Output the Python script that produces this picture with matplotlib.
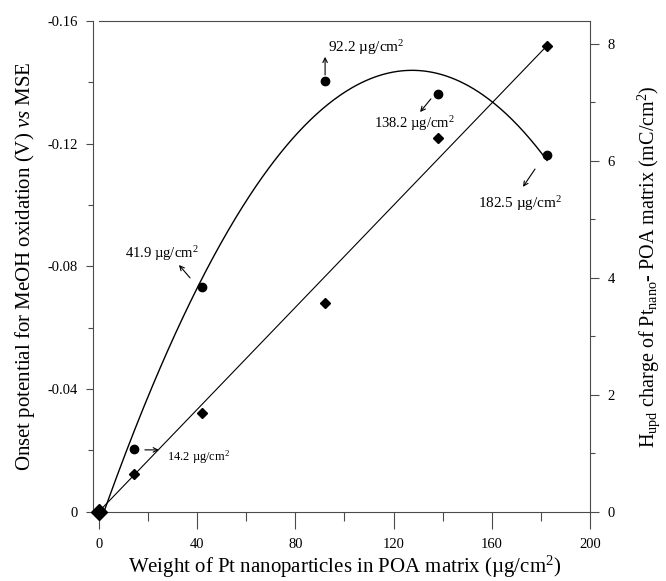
import numpy as np
import matplotlib
matplotlib.use("Agg")
import matplotlib.pyplot as plt
from matplotlib.ticker import MultipleLocator, FuncFormatter

plt.rcParams['font.family'] = ['Liberation Serif', 'DejaVu Serif']
plt.rcParams['mathtext.fontset'] = 'custom'
plt.rcParams['mathtext.rm'] = 'Liberation Serif'
plt.rcParams['mathtext.it'] = 'Liberation Serif:italic'

# ---- data ----
pt_weight = [0.0, 14.2, 41.9, 92.2, 138.2, 182.5]          # ug/cm2
onset_potential = [0.0, -0.0204, -0.0732, -0.1404, -0.1363, -0.1163]  # V vs MSE
hupd_charge = [0.0, 0.64, 1.68, 3.57, 6.39, 7.96]           # mC/cm2

x_ticks = [0, 40, 80, 120, 160, 200]
left_ticks = [0, -0.04, -0.08, -0.12, -0.16]
right_ticks = [0, 2, 4, 6, 8]

ann_labels = ['92.2 µg/cm$^2$', '138.2 µg/cm$^2$', '182.5 µg/cm$^2$',
              '41.9 µg/cm$^2$', '14.2 µg/cm$^2$']

# ---- figure ----
fig = plt.figure(figsize=(6.66, 5.81), dpi=100)
ax = fig.add_axes([0.1486, 0.1196, 0.7373, 0.8443])
ax2 = ax.twinx()
ax2.set_position(ax.get_position())

spine_col = '#4a4a4a'

x = np.array(pt_weight)
y1 = np.array(onset_potential)
y2 = np.array(hupd_charge)

# polynomial trend for onset potential
coef = np.polyfit(x, y1, 3)
xs = np.linspace(0, x.max(), 300)
ax.plot(xs, np.polyval(coef, xs), color='black', lw=1.0, zorder=3)
ax.plot(x[1:], y1[1:], 'o', color='black', ms=6, clip_on=False, zorder=4)

# linear trend through origin for charge
slope = np.sum(x * y2) / np.sum(x * x)
xl = np.array([0, x.max()])
ax2.plot(xl, slope * xl, color='black', lw=0.8, zorder=3)
ax2.plot(x[1:], y2[1:], 'D', color='black', ms=5.6, clip_on=False, zorder=4)
ax2.plot(x[:1], y2[:1], 'D', color='black', ms=8.5, clip_on=False, zorder=5)

ax.set_xlim(0, 200)
ax.set_ylim(0, -0.16)
ax2.set_ylim(0, 8.39)

# spines
for s in ['left', 'bottom', 'top']:
    ax.spines[s].set_color(spine_col)
    ax.spines[s].set_linewidth(0.8)
ax.spines['right'].set_visible(False)
ax.spines['left'].set_position(('outward', 4))
for s in ['left', 'bottom', 'top']:
    ax2.spines[s].set_visible(False)
ax2.spines['right'].set_color(spine_col)
ax2.spines['right'].set_linewidth(0.8)

# ticks
ax.set_xticks(x_ticks)
ax.xaxis.set_minor_locator(MultipleLocator(20))
ax.set_yticks(left_ticks)
ax.yaxis.set_minor_locator(MultipleLocator(0.02))
ax.yaxis.set_major_formatter(FuncFormatter(lambda v, p: '0' if abs(v) < 1e-9 else f'{v:.2f}'))
ax2.set_yticks(right_ticks)
ax2.yaxis.set_minor_locator(MultipleLocator(1))

ax.tick_params(axis='x', which='major', direction='out', length=12, width=0.8,
               color=spine_col, labelsize=10.5, pad=7)
ax.tick_params(axis='x', which='minor', direction='out', length=6.5, width=0.8,
               color=spine_col)
ax.tick_params(axis='y', which='major', direction='out', length=5, width=0.8,
               color=spine_col, labelsize=10.5, pad=6)
ax.tick_params(axis='y', which='minor', direction='out', length=3.6, width=0.8,
               color=spine_col)
ax2.tick_params(axis='y', which='major', direction='out', length=6.5, width=0.8,
                color=spine_col, labelsize=10.5, pad=6)
ax2.tick_params(axis='y', which='minor', direction='out', length=3.6, width=0.8,
                color=spine_col)

ax.set_xlabel('Weight of Pt nanoparticles in POA matrix (µg/cm$^2$)', fontsize=15, labelpad=2)
ax.set_ylabel('Onset potential for MeOH oxidation (V) $\\it{vs}$ MSE', fontsize=15, labelpad=8)
ax2.set_ylabel('H$_{\\rm upd}$ charge of Pt$_{\\rm nano}$- POA matrix (mC/cm$^2$)',
               fontsize=14.5, labelpad=15)

# annotations
ax.text(93.3, -0.1512, ann_labels[0], fontsize=11, va='center', ha='left')
ax.annotate('', xy=(92.1, -0.1483), xytext=(92.1, -0.1424),
            arrowprops=dict(arrowstyle='->', lw=0.8, color='black', shrinkA=0, shrinkB=0, mutation_scale=8))
ax.text(112.0, -0.1267, ann_labels[1], fontsize=10.5, va='center', ha='left')
ax.annotate('', xy=(130.8, -0.1303), xytext=(135.2, -0.1346),
            arrowprops=dict(arrowstyle='->', lw=0.8, color='black', shrinkA=0, shrinkB=0, mutation_scale=8))
ax.text(154.4, -0.1003, ann_labels[2], fontsize=11, va='center', ha='left')
ax.annotate('', xy=(172.7, -0.1059), xytext=(177.6, -0.1117),
            arrowprops=dict(arrowstyle='->', lw=0.8, color='black', shrinkA=0, shrinkB=0, mutation_scale=8))
ax.text(10.6, -0.0843, ann_labels[3], fontsize=10.5, va='center', ha='left')
ax.annotate('', xy=(32.6, -0.0804), xytext=(37.1, -0.0762),
            arrowprops=dict(arrowstyle='->', lw=0.8, color='black', shrinkA=0, shrinkB=0, mutation_scale=8))
ax.text(27.7, -0.0178, ann_labels[4], fontsize=9, va='center', ha='left')
ax.annotate('', xy=(24.4, -0.0201), xytext=(18.7, -0.0201),
            arrowprops=dict(arrowstyle='->', lw=0.8, color='black', shrinkA=0, shrinkB=0, mutation_scale=8))

fig.savefig('out.png', dpi=100)
